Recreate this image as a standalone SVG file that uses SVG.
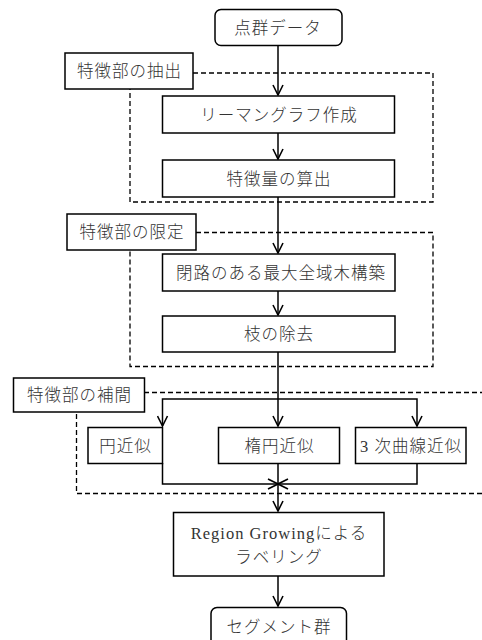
<svg xmlns="http://www.w3.org/2000/svg" width="482" height="640" viewBox="0 0 482 640">
<style>
.b{fill:#fff;stroke:#000;stroke-width:1.5}
.d{fill:none;stroke:#000;stroke-width:1.3;stroke-dasharray:5,3}
.c{fill:none;stroke:#000;stroke-width:1.5}
text{font-family:"Liberation Serif","Noto Sans CJK JP",serif;font-size:16.5px;font-weight:300;fill:#333;text-anchor:middle;letter-spacing:1px}
</style>
<defs>
<marker id="ar" viewBox="0 0 12 12" refX="11" refY="6" markerWidth="12" markerHeight="12" markerUnits="userSpaceOnUse" orient="auto">
<path d="M1,1 L11,6 L1,11" fill="none" stroke="#000" stroke-width="1.6"/>
</marker>
</defs>
<rect width="482" height="640" fill="#fff"/>
<g id="groups">
<path class="d" d="M193,73 H433 V202 H130 V89"/>
<path class="d" d="M196,232.5 H433 V366.5 H130 V250"/>
<path class="d" d="M144,392.5 H482 M482,493.5 H76.5 V412"/>
</g>
<g id="connectors">
<path class="c" d="M278,45.5 V95" marker-end="url(#ar)"/>
<path class="c" d="M278,133 V159" marker-end="url(#ar)"/>
<path class="c" d="M278,197 V253" marker-end="url(#ar)"/>
<path class="c" d="M278,291 V315" marker-end="url(#ar)"/>
<path class="c" d="M278,352 V426" marker-end="url(#ar)"/>
<path class="c" d="M278,399 H162.5 V426" marker-end="url(#ar)"/>
<path class="c" d="M278,399 H417 V426" marker-end="url(#ar)"/>
<path class="c" d="M162.5,463 V484 H278" marker-end="url(#ar)"/>
<path class="c" d="M417,463 V484 H278" marker-end="url(#ar)"/>
<path class="c" d="M278,463 V511" marker-end="url(#ar)"/>
<path class="c" d="M278,576 V606" marker-end="url(#ar)"/>
</g>
<g id="n_start"><rect class="b" x="215" y="9.5" width="127" height="36" rx="6"/><text x="278" y="33.5">点群データ</text></g>
<g id="l_extract"><rect class="b" x="65" y="53" width="128" height="36"/><text x="129.5" y="77">特徴部の抽出</text></g>
<g id="n_riemann"><rect class="b" x="162.5" y="96" width="232" height="37"/><text x="279" y="120.5">リーマングラフ作成</text></g>
<g id="n_feature"><rect class="b" x="162.5" y="160" width="232" height="37"/><text x="279" y="184.5">特徴量の算出</text></g>
<g id="l_limit"><rect class="b" x="67" y="214" width="129" height="36"/><text x="132" y="238">特徴部の限定</text></g>
<g id="n_mst"><rect class="b" x="162.5" y="254" width="232.5" height="37"/><text x="281" y="278.5">閉路のある最大全域木構築</text></g>
<g id="n_prune"><rect class="b" x="162.5" y="316" width="232.5" height="36"/><text x="279" y="340">枝の除去</text></g>
<g id="l_interp"><rect class="b" x="13.5" y="378" width="131" height="34"/><text x="79.5" y="401">特徴部の補間</text></g>
<g id="n_circle"><rect class="b" x="88" y="427.5" width="74.5" height="36"/><text x="125.5" y="451.5">円近似</text></g>
<g id="n_ellipse"><rect class="b" x="218.5" y="427.5" width="121" height="36"/><text x="279.5" y="451.5">楕円近似</text></g>
<g id="n_cubic"><rect class="b" x="355.5" y="427.5" width="110.5" height="36"/><text x="411" y="451.5">3 次曲線近似</text></g>
<g id="n_region"><rect class="b" x="173.5" y="512.5" width="210.5" height="63.5"/><text x="279" y="538.5" font-size="17.5">Region Growingによる</text><text x="279" y="562.5">ラベリング</text></g>
<g id="n_end"><rect class="b" x="211" y="607.5" width="135.5" height="40" rx="6"/><text x="279" y="633">セグメント群</text></g>
</svg>
